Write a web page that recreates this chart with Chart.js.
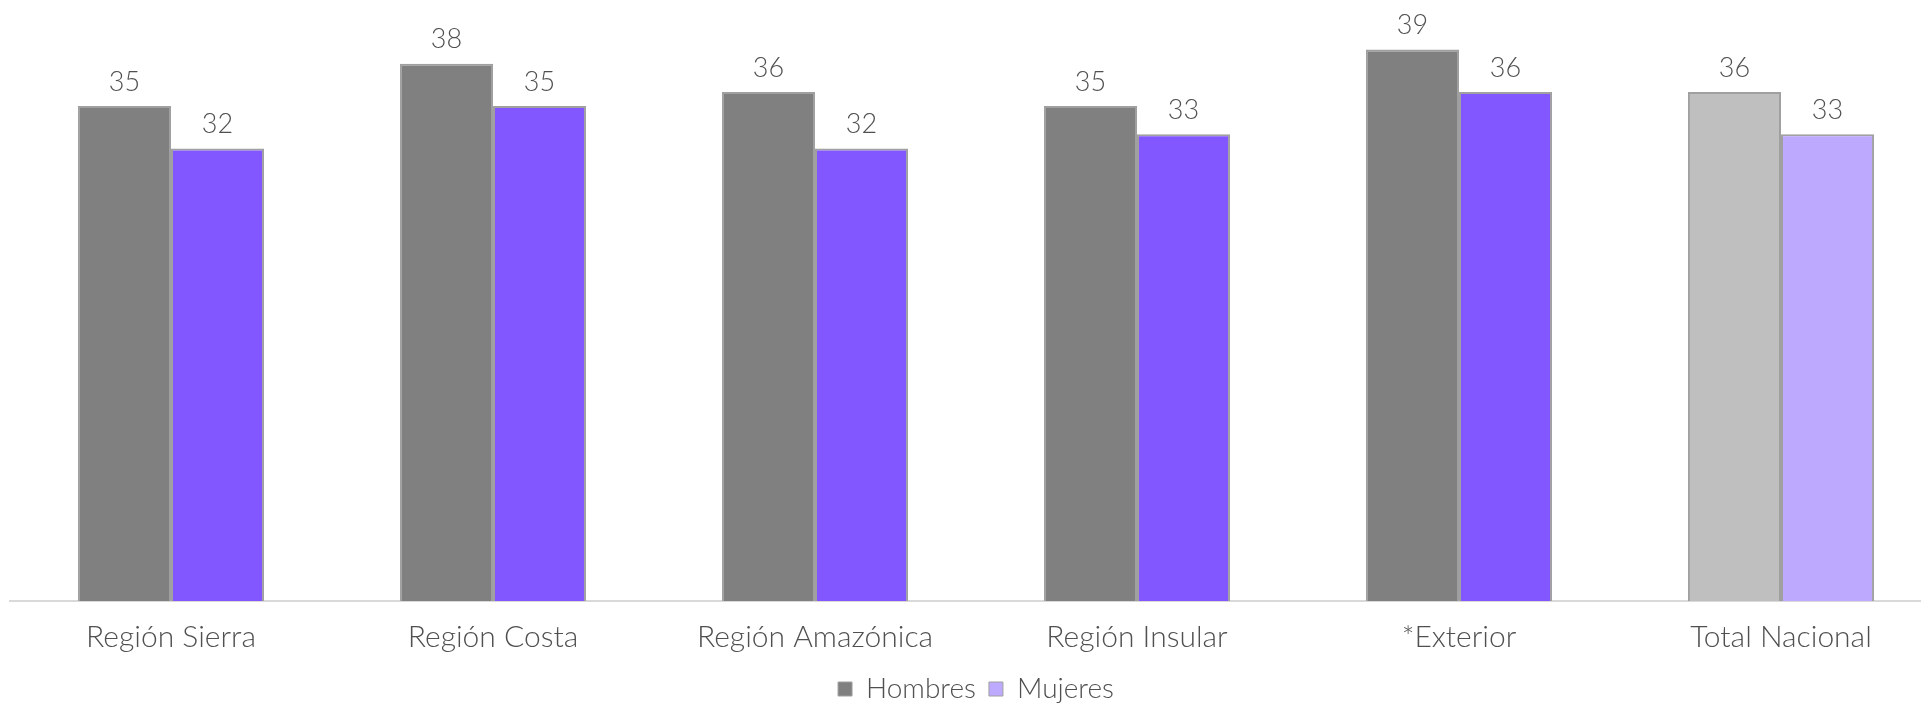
<!DOCTYPE html>
<html>
<head>
<meta charset="utf-8">
<script src="https://cdn.jsdelivr.net/npm/chart.js@4.4.1/dist/chart.umd.min.js"></script>
<style>
    html, body { margin: 0; padding: 0; background: #ffffff; overflow: hidden; }
    /* the plot runs a little past the right edge of the window, as in the original */
    #wrap { width: 1942px; height: 704px; }
</style>
</head>
<body>
<div id="wrap"><canvas id="edadChart"></canvas></div>
<script>
const categorias = ['Región Sierra', 'Región Costa', 'Región Amazónica', 'Región Insular', '*Exterior', 'Total Nacional'];
const hombres = [35, 38, 36, 35, 39, 36];
const mujeres = [32, 35, 32, 33, 36, 33];

const FONT = 'Lato, "DejaVu Sans", sans-serif';
const TEXT_COLOR = '#505050';

// the last group (Total Nacional) is drawn in lighter tones
const coloresHombres = categorias.map((c, i) => i === categorias.length - 1 ? '#bfbfbf' : '#808080');
const coloresMujeres = categorias.map((c, i) => i === categorias.length - 1 ? '#bdaaff' : '#8257ff');

const valueLabels = {
    id: 'valueLabels',
    afterDatasetsDraw(chart) {
        const ctx = chart.ctx;
        ctx.save();
        ctx.font = '300 27px ' + FONT;
        ctx.fillStyle = TEXT_COLOR;
        ctx.textAlign = 'center';
        ctx.textBaseline = 'middle';
        chart.data.datasets.forEach((ds, di) => {
            const meta = chart.getDatasetMeta(di);
            meta.data.forEach((bar, i) => {
                ctx.fillText(ds.data[i], bar.x, bar.y - 24);
            });
        });
        ctx.restore();
    }
};

document.addEventListener('DOMContentLoaded', function() {
    const ctx = document.getElementById('edadChart');

    new Chart(ctx, {
        type: 'bar',
        data: {
            labels: categorias,
            datasets: [
                {
                    label: 'Hombres',
                    data: hombres,
                    backgroundColor: coloresHombres,
                    borderColor: '#a0a0a0',
                    borderWidth: 2
                },
                {
                    label: 'Mujeres',
                    data: mujeres,
                    backgroundColor: coloresMujeres,
                    borderColor: '#a0a0a0',
                    borderWidth: 2
                }
            ]
        },
        options: {
            responsive: true,
            maintainAspectRatio: false,
            animation: false,
            categoryPercentage: 0.578,
            barPercentage: 1.0,
            layout: {
                padding: { left: 10, right: 0, top: 0, bottom: -9 }
            },
            plugins: {
                tooltip: { enabled: false },
                legend: {
                    position: 'bottom',
                    labels: {
                        font: { family: FONT, size: 28, weight: '300' },
                        color: TEXT_COLOR,
                        boxWidth: 14,
                        boxHeight: 14,
                        padding: 13,
                        generateLabels: function() {
                            return [
                                { text: 'Hombres', fillStyle: '#808080', strokeStyle: '#a0a0a0', lineWidth: 1, fontColor: TEXT_COLOR, datasetIndex: 0 },
                                { text: 'Mujeres', fillStyle: '#bdaaff', strokeStyle: '#a0a0a0', lineWidth: 1, fontColor: TEXT_COLOR, datasetIndex: 1 }
                            ];
                        }
                    }
                }
            },
            scales: {
                x: {
                    grid: { display: false, drawTicks: false },
                    border: { display: true, color: '#d9d9d9', width: 2 },
                    ticks: {
                        font: { family: FONT, size: 30, weight: '300', lineHeight: 1.2 },
                        color: TEXT_COLOR,
                        padding: 18
                    },
                    // pull the legend up closer to the category labels
                    afterFit: function(scale) {
                        scale.height -= 11;
                    }
                },
                y: {
                    display: false,
                    min: 0,
                    max: 42.5
                }
            }
        },
        plugins: [valueLabels]
    });
});
</script>
</body>
</html>
